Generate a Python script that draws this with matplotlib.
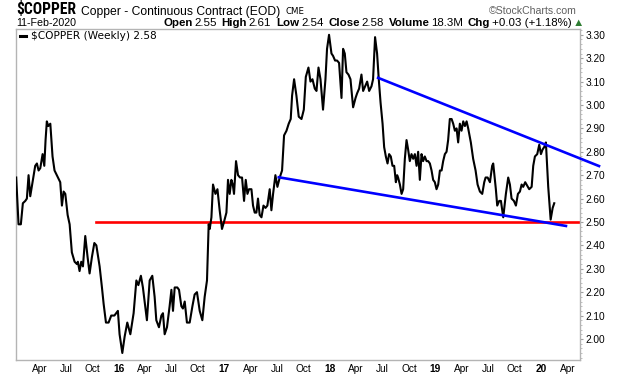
import numpy as np
import matplotlib
matplotlib.use("Agg")
import matplotlib.pyplot as plt
from matplotlib.lines import Line2D
from matplotlib.ticker import MultipleLocator
from matplotlib import font_manager

# weekly close of $COPPER, time as decimal year
weeks_2015 = [2015.030, 2015.052, 2015.074, 2015.093, 2015.116, 2015.131, 2015.147, 2015.163, 2015.188, 2015.210,
              2015.226, 2015.242, 2015.258, 2015.280, 2015.296, 2015.308, 2015.320, 2015.334, 2015.353, 2015.374,
              2015.393, 2015.415, 2015.447, 2015.463, 2015.479, 2015.495, 2015.517, 2015.536, 2015.557, 2015.583,
              2015.605, 2015.614, 2015.630, 2015.646, 2015.662, 2015.684, 2015.706, 2015.725, 2015.747, 2015.770,
              2015.789, 2015.820, 2015.842, 2015.858, 2015.880, 2015.905, 2015.930, 2015.960, 2015.993]
close_2015 = [2.69, 2.49, 2.49, 2.58, 2.59, 2.60, 2.70, 2.61, 2.68, 2.74,
              2.75, 2.72, 2.73, 2.79, 2.74, 2.85, 2.93, 2.91, 2.92, 2.78,
              2.72, 2.70, 2.67, 2.57, 2.63, 2.62, 2.53, 2.49, 2.37, 2.33,
              2.32, 2.33, 2.29, 2.33, 2.31, 2.44, 2.35, 2.28, 2.35, 2.41,
              2.40, 2.31, 2.22, 2.15, 2.07, 2.07, 2.10, 2.10, 2.12]

weeks_2016 = [2016.009, 2016.035, 2016.057, 2016.082, 2016.111, 2016.142, 2016.168, 2016.187, 2016.211, 2016.230,
              2016.268, 2016.294, 2016.319, 2016.341, 2016.357, 2016.382, 2016.405, 2016.420, 2016.436, 2016.458,
              2016.483, 2016.500, 2016.515, 2016.531, 2016.556, 2016.572, 2016.594, 2016.609, 2016.626, 2016.647,
              2016.673, 2016.699, 2016.720, 2016.742, 2016.768, 2016.793, 2016.815, 2016.837, 2016.853, 2016.863,
              2016.879, 2016.894, 2016.917, 2016.936, 2016.957, 2016.979, 2016.998]
close_2016 = [2.02, 1.94, 2.01, 2.07, 2.02, 2.11, 2.25, 2.23, 2.27, 2.22,
              2.08, 2.25, 2.27, 2.18, 2.08, 2.05, 2.10, 2.11, 2.02, 2.05,
              2.14, 2.21, 2.12, 2.22, 2.22, 2.21, 2.14, 2.13, 2.16, 2.07,
              2.07, 2.14, 2.19, 2.20, 2.12, 2.08, 2.18, 2.25, 2.49, 2.47,
              2.52, 2.66, 2.62, 2.64, 2.55, 2.47, 2.50]

weeks_2017 = [2017.021, 2017.036, 2017.052, 2017.068, 2017.081, 2017.093, 2017.112, 2017.131, 2017.150, 2017.169,
              2017.188, 2017.204, 2017.220, 2017.235, 2017.258, 2017.273, 2017.289, 2017.305, 2017.320, 2017.336,
              2017.353, 2017.372, 2017.391, 2017.409, 2017.431, 2017.447, 2017.463, 2017.485, 2017.504, 2017.526,
              2017.548, 2017.567, 2017.590, 2017.611, 2017.630, 2017.643, 2017.662, 2017.684, 2017.706, 2017.732,
              2017.754, 2017.773, 2017.798, 2017.817, 2017.836, 2017.858, 2017.874, 2017.893, 2017.912, 2017.936,
              2017.959, 2017.974, 2017.993]
close_2017 = [2.54, 2.68, 2.62, 2.68, 2.66, 2.62, 2.76, 2.70, 2.69, 2.69,
              2.59, 2.68, 2.62, 2.64, 2.64, 2.57, 2.54, 2.54, 2.60, 2.53,
              2.52, 2.57, 2.56, 2.57, 2.64, 2.55, 2.62, 2.70, 2.65, 2.69,
              2.72, 2.87, 2.89, 2.92, 2.94, 3.04, 3.11, 3.04, 2.95, 2.94,
              2.98, 3.12, 3.16, 3.10, 3.11, 3.07, 3.06, 3.16, 3.11, 2.98,
              3.11, 3.24, 3.30]

weeks_2018 = [2018.016, 2018.031, 2018.050, 2018.069, 2018.088, 2018.111, 2018.126, 2018.142, 2018.158, 2018.177,
              2018.196, 2018.221, 2018.244, 2018.259, 2018.278, 2018.300, 2018.316, 2018.335, 2018.354, 2018.373,
              2018.395, 2018.410, 2018.429, 2018.448, 2018.464, 2018.481, 2018.500, 2018.515, 2018.531, 2018.547,
              2018.562, 2018.578, 2018.594, 2018.610, 2018.626, 2018.638, 2018.647, 2018.664, 2018.680, 2018.695,
              2018.711, 2018.727, 2018.742, 2018.758, 2018.774, 2018.790, 2018.806, 2018.822, 2018.837, 2018.853,
              2018.869, 2018.884, 2018.900, 2018.917, 2018.932, 2018.948, 2018.964, 2018.979, 2018.995]
close_2018 = [3.22, 3.21, 3.19, 3.19, 3.18, 3.03, 3.24, 3.22, 3.14, 3.13,
              3.11, 2.99, 3.03, 3.05, 3.07, 3.13, 3.06, 3.08, 3.10, 3.06,
              3.08, 3.11, 3.29, 3.22, 3.11, 3.01, 2.92, 2.82, 2.78, 2.75,
              2.79, 2.78, 2.74, 2.74, 2.67, 2.70, 2.69, 2.66, 2.62, 2.64,
              2.77, 2.85, 2.81, 2.76, 2.79, 2.77, 2.79, 2.74, 2.80, 2.68,
              2.79, 2.76, 2.78, 2.76, 2.76, 2.75, 2.72, 2.68, 2.67]

weeks_2019 = [2019.011, 2019.027, 2019.043, 2019.059, 2019.074, 2019.090, 2019.106, 2019.121, 2019.137, 2019.154,
              2019.169, 2019.185, 2019.201, 2019.216, 2019.232, 2019.248, 2019.264, 2019.280, 2019.296, 2019.311,
              2019.336, 2019.358, 2019.381, 2019.400, 2019.422, 2019.444, 2019.463, 2019.476, 2019.495, 2019.517,
              2019.538, 2019.548, 2019.573, 2019.586, 2019.605, 2019.621, 2019.643, 2019.668, 2019.690, 2019.706,
              2019.722, 2019.744, 2019.763, 2019.782, 2019.801, 2019.817, 2019.832, 2019.851, 2019.864, 2019.889,
              2019.912, 2019.927, 2019.943, 2019.965, 2019.984]
close_2019 = [2.64, 2.66, 2.72, 2.72, 2.76, 2.79, 2.80, 2.85, 2.94, 2.94,
              2.92, 2.89, 2.90, 2.84, 2.92, 2.89, 2.93, 2.91, 2.93, 2.90,
              2.84, 2.77, 2.72, 2.66, 2.63, 2.62, 2.67, 2.69, 2.69, 2.67,
              2.74, 2.75, 2.64, 2.57, 2.59, 2.59, 2.52, 2.62, 2.69, 2.66,
              2.60, 2.59, 2.57, 2.62, 2.63, 2.66, 2.65, 2.67, 2.66, 2.64,
              2.65, 2.74, 2.78, 2.79, 2.83]

weeks_2020 = [2020.000, 2020.016, 2020.031, 2020.047, 2020.069, 2020.092, 2020.111, 2020.126]
close_2020 = [2.79, 2.81, 2.82, 2.84, 2.65, 2.51, 2.56, 2.58]

# trend lines drawn on the chart (start / end)
upper_t = [2018.458, 2020.550]
upper_v = [3.116, 2.739]
lower_t = [2017.517, 2020.237]
lower_v = [2.691, 2.483]
support_t = [2015.782, 2020.370]
support_v = [2.50, 2.50]

years = [2015, 2016, 2017, 2018, 2019, 2020]
month_names = {4: "Apr", 7: "Jul", 10: "Oct"}
y_ticks = np.round(np.arange(2.0, 3.31, 0.1), 2)

t = np.concatenate([weeks_2015, weeks_2016, weeks_2017, weeks_2018, weeks_2019, weeks_2020])
c = np.concatenate([close_2015, close_2016, close_2017, close_2018, close_2019, close_2020])

W, H = 620, 376
fig = plt.figure(figsize=(W / 100, H / 100), dpi=100)
ax = fig.add_axes([16 / W, 1 - 360 / H, 564 / W, 330.7 / H])

ax.plot(t, c, color="black", lw=1.5, zorder=3)
ax.plot(support_t, support_v, color="#ff0000", lw=1.9, zorder=2)
ax.plot(lower_t, lower_v, color="#0000ff", lw=1.9, zorder=4, clip_on=False)
ax.plot(upper_t, upper_v, color="#0000ff", lw=1.9, zorder=4, clip_on=False)

ax.set_xlim(2015.028, 2020.370)
ax.set_ylim(1.910, 3.3235)

for s in ax.spines.values():
    s.set_color("#b4b4b4")
    s.set_linewidth(1.0)

# y axis on the right
ax.yaxis.tick_right()
ax.set_yticks(y_ticks)
ax.set_yticklabels([f"{v:.2f}" for v in y_ticks])
ax.yaxis.set_minor_locator(MultipleLocator(0.02))
ax.tick_params(axis="y", which="major", length=2.5, width=0.8, color="#a0a0a0", pad=1.5,
               labelsize=7.3, labelcolor="black")
ax.tick_params(axis="y", which="minor", length=1.5, width=0.6, color="#b4b4b4")
for lab in ax.get_yticklabels():
    lab.set_fontfamily("Liberation Sans")

# x axis: quarter starts, year in bold
xt, xl = [], []
for y in years:
    for m in (1, 4, 7, 10):
        pos = y + (m - 1) / 12
        if pos < 2015.028 or pos > 2020.37:
            continue
        xt.append(pos)
        xl.append(str(y)[2:] if m == 1 else month_names[m])
ax.set_xticks(xt)
ax.set_xticklabels(xl)
ax.tick_params(axis="x", length=0, pad=3.0, labelsize=7.3)
for lab in ax.get_xticklabels():
    lab.set_fontfamily("Liberation Sans")
    if lab.get_text().isdigit():
        lab.set_fontweight("bold")


def fx(px):
    return px / W


def fy(py):
    return 1 - py / H


fig.canvas.draw()
renderer = fig.canvas.get_renderer()


def fit_width(txt, width_px):
    # shrink/grow a text so it spans width_px pixels
    txt.set_fontsize(txt.get_fontsize() * width_px / txt.get_window_extent(renderer).width)


def pieces_row(x_right, y_base, pieces, width_px):
    arts = []
    for s, wt, col, gap in pieces:
        a = fig.text(0, fy(y_base), s, fontsize=7.6, fontweight=wt, color=col,
                     family=["Liberation Sans", "DejaVu Sans"], va="baseline")
        arts.append([a, a.get_window_extent(renderer).width, gap])
    gaps = sum(g for _, _, g in arts)
    k = (width_px - gaps) / sum(w for _, w, _ in arts)
    x = x_right - width_px
    for a, w, g in arts:
        a.set_fontsize(7.6 * k)
        a.set_x(fx(x))
        x += w * k + g


# a condensed bold face for the symbol, if one is installed
narrow = None
for cand in ["Liberation Sans Narrow", "DejaVu Sans Condensed", "Roboto Condensed"]:
    try:
        font_manager.findfont(cand, fallback_to_default=False)
        narrow = cand
        break
    except ValueError:
        pass

# header
if narrow:
    title = fig.text(fx(16), fy(14.5), "$COPPER", fontsize=11, fontweight="bold",
                     family=narrow, va="baseline")
    fit_width(title, 60)
    sub_x = 81
else:
    title = fig.text(fx(15), fy(14.5), "$COPPER", fontsize=10.2, fontweight="bold",
                     family="Liberation Sans", va="baseline")
    sub_x = 15 + title.get_window_extent(renderer).width + 4
sub = fig.text(fx(sub_x), fy(14.5), "Copper - Continuous Contract (EOD)", fontsize=7.6,
               family="Liberation Sans", va="baseline")
fit_width(sub, 280 - sub_x)
fig.text(fx(285), fy(14.5), "CME", fontsize=6.2, family="DejaVu Sans", va="baseline")
fig.text(fx(577), fy(14.5), "\u00a9StockCharts.com", fontsize=7.6, color="#606060",
         family="Liberation Sans", va="baseline", ha="right")
fig.text(fx(16), fy(26), "11-Feb-2020", fontsize=7.7, family="Liberation Sans", va="baseline")

pieces_row(584, 26, [
    ("Open", "bold", "black", 2), ("2.55", "normal", "black", 5),
    ("High", "bold", "black", 2), ("2.61", "normal", "black", 5),
    ("Low", "bold", "black", 2), ("2.54", "normal", "black", 5),
    ("Close", "bold", "black", 2), ("2.58", "normal", "black", 5),
    ("Volume", "bold", "black", 2), ("18.3M", "normal", "black", 5),
    ("Chg", "bold", "black", 2), ("+0.03 (+1.18%)", "normal", "black", 2),
    ("\u25b2", "normal", "#2e7d32", 0),
], 421)

# legend
fig.add_artist(Line2D([fx(20), fx(26)], [fy(35.5), fy(35.5)], color="black", lw=2.2))
fig.text(fx(31), fy(38.8), "$COPPER (Weekly) 2.58", fontsize=7.6, family="DejaVu Sans",
         va="baseline")

fig.savefig("out.png", dpi=100)
